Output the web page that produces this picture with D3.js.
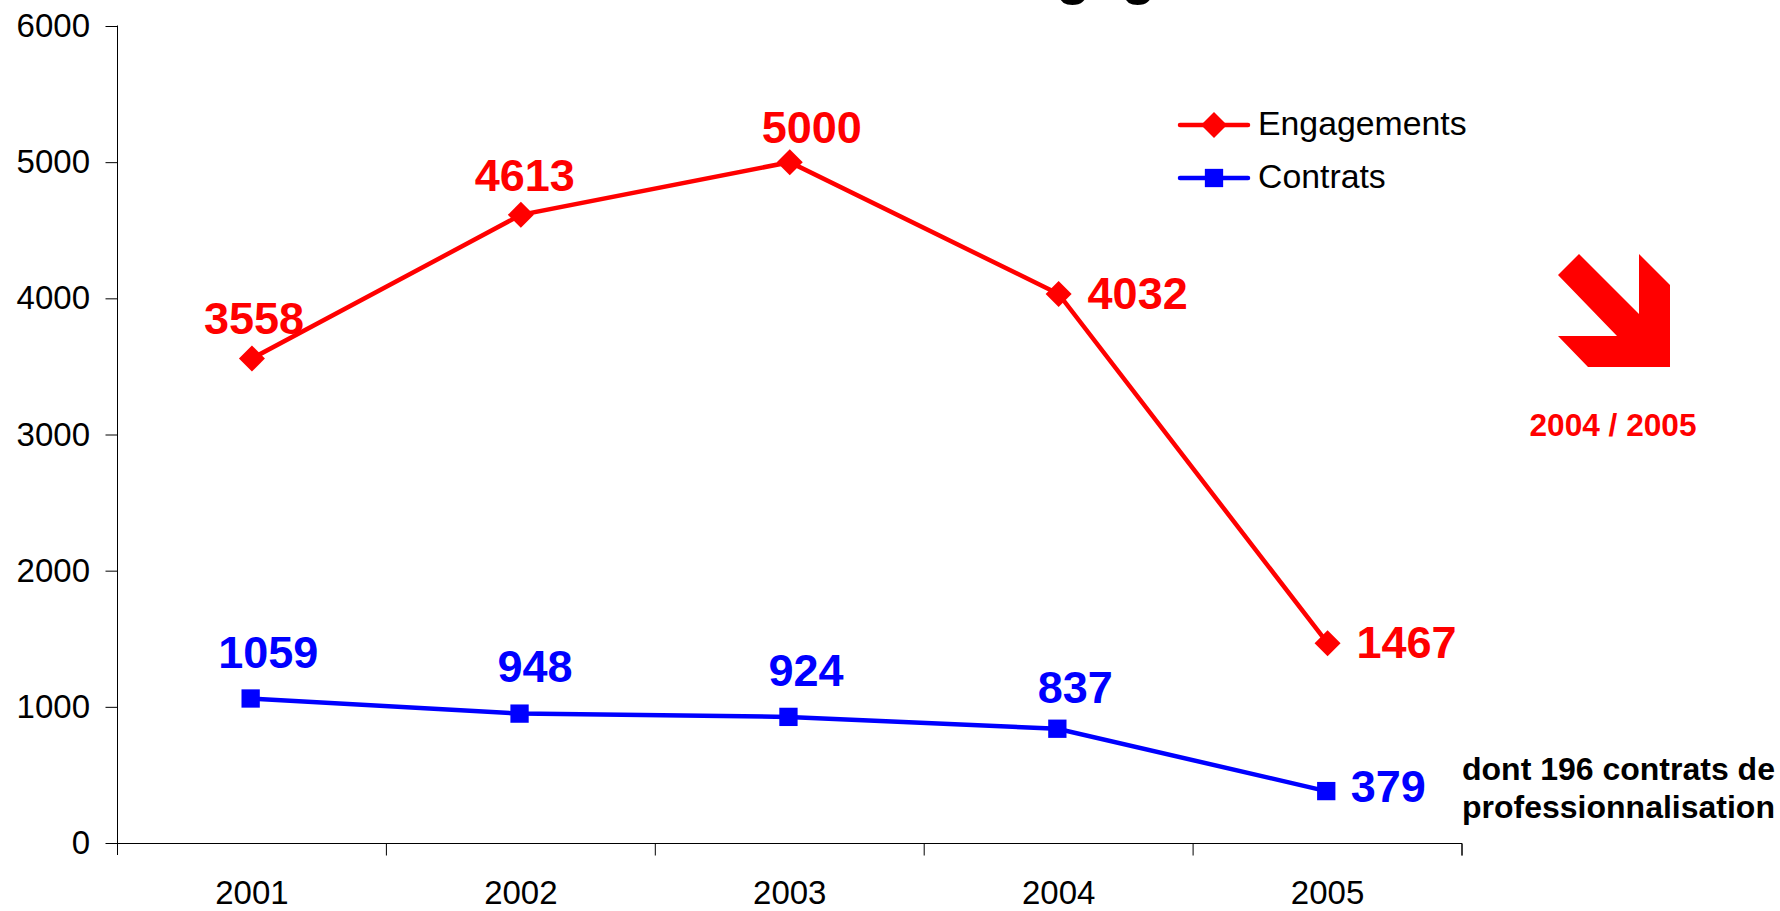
<!DOCTYPE html>
<html><head><meta charset="utf-8">
<style>html,body{margin:0;padding:0;background:#fff}svg{display:block}text{font-family:"Liberation Sans",Arial,sans-serif}</style>
<script src="https://cdn.jsdelivr.net/npm/d3@7"></script></head>
<body><svg id="c" width="1780" height="911"></svg>
<script>
const years=["2001","2002","2003","2004","2005"];
const engagements=[3558,4613,5000,4032,1467];
const contrats=[1059,948,924,837,379];
const yTicks=[0,1000,2000,3000,4000,5000,6000];
const titleText="Engagements";
const legendLabels=["Engagements","Contrats"];
const noteLines=["dont 196 contrats de","professionnalisation"];
const trendLabel="2004 / 2005";
const engOffsets=[[2,-24.5],[4,-24],[22,-19],[79,15],[79,15]];
const conOffsets=[[17.6,-31],[15.4,-32],[17.5,-31.5],[18,-26],[62,11]];

const svg=d3.select("#c");
const x=d3.scaleBand().domain(years).range([117.5,1462]);
const y=d3.scaleLinear().domain([0,6000]).range([843,26]);
const family='"Liberation Sans",Arial,sans-serif';

svg.append("text").attr("x",1168).attr("y",-7).attr("text-anchor","middle")
  .attr("font-size",56).attr("font-weight","bold").text(titleText);

const ax=svg.append("g").attr("transform","translate(117.5,0)")
  .call(d3.axisLeft(y).tickValues(yTicks).tickSize(12).tickPadding(15.5).tickFormat(d3.format("d")));
ax.selectAll("text").attr("font-size",33).attr("fill","#000").style("font-family",family);
ax.selectAll("line,path").attr("stroke","#000").attr("stroke-width",1);
ax.select("path").attr("d","M0,25.5V855");

const bx=svg.append("g").attr("transform","translate(0,843.5)")
  .call(d3.axisBottom(x).tickSize(0).tickPadding(37));
bx.selectAll("text").attr("font-size",33).attr("fill","#000").style("font-family",family);
bx.select("path").attr("stroke","#000").attr("d","M117.5,0H1462V12");
bx.selectAll(".b").data(years).enter().append("line").attr("class","b")
  .attr("x1",d=>x(d)+x.bandwidth()).attr("x2",d=>x(d)+x.bandwidth()).attr("y1",0).attr("y2",12).attr("stroke","#000");

const sym=(t,s)=>d3.symbol().type(t).size(s)();
const series=[
 {v:engagements,c:"#ff0000",t:d3.symbolDiamond2,sz:431,off:engOffsets,dx:0,dy:0},
 {v:contrats,c:"#0000ff",t:d3.symbolSquare,sz:335,off:conOffsets,dx:-1.3,dy:-0.3}];
series.forEach(s=>{
  const px=i=>x(years[i])+x.bandwidth()/2+s.dx, py=d=>y(d)+s.dy;
  const line=d3.line().x((d,i)=>px(i)).y(d=>py(d));
  svg.append("path").attr("d",line(s.v)).attr("fill","none").attr("stroke",s.c).attr("stroke-width",4.5);
  s.v.forEach((d,i)=>{
    svg.append("path").attr("transform",`translate(${px(i)},${py(d)})`).attr("d",sym(s.t,s.sz)).attr("fill",s.c);
    svg.append("text").attr("x",px(i)+s.off[i][0]).attr("y",y(d)+s.off[i][1]).attr("text-anchor","middle")
      .attr("font-size",45).attr("font-weight","bold").attr("fill",s.c).text(d);
  });
});

[[125,135,series[0]],[178,188,series[1]]].forEach(([ly,by,s],i)=>{
  svg.append("line").attr("x1",1180).attr("x2",1248).attr("y1",ly).attr("y2",ly).attr("stroke",s.c).attr("stroke-width",4.5).attr("stroke-linecap","round");
  svg.append("path").attr("transform",`translate(1214,${ly})`).attr("d",sym(s.t,s.sz)).attr("fill",s.c);
  svg.append("text").attr("x",1258).attr("y",by).attr("font-size",33.8).text(legendLabels[i]);
});

noteLines.forEach((t,i)=>svg.append("text").attr("x",1462).attr("y",780+i*38).attr("font-size",32).attr("font-weight","bold").text(t));

svg.append("path").attr("fill","#ff0000")
  .attr("d",d3.line()([[1579,254],[1558,275],[1617,336],[1558,336],[1588,367],[1670,367],[1670,285],[1639,254],[1639,314]])+"Z");
svg.append("text").attr("x",1613).attr("y",436).attr("text-anchor","middle").attr("font-size",31.6).attr("font-weight","bold").attr("fill","#ff0000").text(trendLabel);
</script></body></html>
